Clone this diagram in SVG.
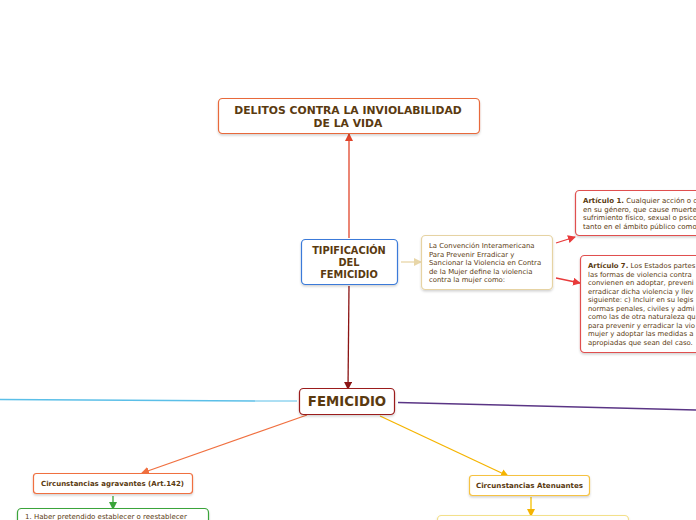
<svg xmlns="http://www.w3.org/2000/svg" width="696" height="520" viewBox="0 0 696 520">
<style>
.box{fill:#fff;stroke-width:1.2}
.t{font-family:"DejaVu Sans",Verdana,sans-serif;fill:#5a3a10}
.b{font-weight:bold}
.c{fill:none;stroke-width:1.3}
</style>
<defs>
<filter id="sh" x="-10%" y="-10%" width="120%" height="130%">
<feDropShadow dx="0" dy="1.5" stdDeviation="1.2" flood-color="#000" flood-opacity="0.18"/>
</filter>
<marker id="aR" markerWidth="8" markerHeight="8" refX="7" refY="4" orient="auto" markerUnits="userSpaceOnUse"><path d="M0,0 L8,4 L0,8 Z" fill="#e0442a"/></marker>
<marker id="aD" markerWidth="8" markerHeight="8" refX="7" refY="4" orient="auto" markerUnits="userSpaceOnUse"><path d="M0,0 L8,4 L0,8 Z" fill="#8b1414"/></marker>
<marker id="aB" markerWidth="8" markerHeight="8" refX="7" refY="4" orient="auto" markerUnits="userSpaceOnUse"><path d="M0,0 L8,4 L0,8 Z" fill="#e8d6a8"/></marker>
<marker id="aP" markerWidth="8" markerHeight="8" refX="7" refY="4" orient="auto" markerUnits="userSpaceOnUse"><path d="M0,0 L8,4 L0,8 Z" fill="#e83a3a"/></marker>
<marker id="aO" markerWidth="8" markerHeight="8" refX="7" refY="4" orient="auto" markerUnits="userSpaceOnUse"><path d="M0,0 L8,4 L0,8 Z" fill="#f07040"/></marker>
<marker id="aY" markerWidth="8" markerHeight="8" refX="7" refY="4" orient="auto" markerUnits="userSpaceOnUse"><path d="M0,0 L8,4 L0,8 Z" fill="#f5b400"/></marker>
<marker id="aG" markerWidth="8" markerHeight="8" refX="7" refY="4" orient="auto" markerUnits="userSpaceOnUse"><path d="M0,0 L8,4 L0,8 Z" fill="#3aa43a"/></marker>
</defs>

<g id="connectors">
<path class="c" d="M349,238 L349,134" stroke="#e0442a" marker-end="url(#aR)"/>
<path class="c" d="M349,286 L348,389" stroke="#8b1414" marker-end="url(#aD)"/>
<path class="c" d="M401,262 L421,262" stroke="#e8d6a8" marker-end="url(#aB)"/>
<path class="c" d="M556,243 L575,237" stroke="#e83a3a" marker-end="url(#aP)"/>
<path class="c" d="M556,278 L580,283" stroke="#e83a3a" marker-end="url(#aP)"/>
<path d="M0,399.5 L255,401" fill="none" stroke="#5bbfe8" stroke-width="1.6"/>
<path d="M255,401 L297,401" fill="none" stroke="#5bbfe8" stroke-width="1"/>
<path d="M398,402.5 C500,405 600,408 696,410" fill="none" stroke="#5a3585" stroke-width="1.4"/>
<path class="c" d="M307,415 L142,473" stroke="#f07040" marker-end="url(#aO)"/>
<path class="c" d="M380,416 L508,476" stroke="#f5b400" marker-end="url(#aY)"/>
<path class="c" d="M113,496 L113,509" stroke="#3aa43a" marker-end="url(#aG)"/>
<path class="c" d="M531,497 L531,516" stroke="#f5c000" marker-end="url(#aY)"/>
</g>

<g id="delitos">
<rect class="box" x="218.5" y="98.5" width="261" height="35" rx="4" stroke="#e8693a" filter="url(#sh)"/>
<text class="t b" font-size="10.8" text-anchor="middle"><tspan x="348" y="114">DELITOS CONTRA LA INVIOLABILIDAD</tspan><tspan x="348" y="127">DE LA VIDA</tspan></text>
</g>

<g id="tipificacion">
<rect class="box" x="301.5" y="239.5" width="96" height="45" rx="4" stroke="#3a7ad9" filter="url(#sh)"/>
<text class="t b" font-size="9.8" text-anchor="middle"><tspan x="349" y="254">TIPIFICACIÓN</tspan><tspan x="349" y="266">DEL</tspan><tspan x="349" y="278">FEMICIDIO</tspan></text>
</g>

<g id="convencion">
<rect class="box" x="421.5" y="235.5" width="131" height="54" rx="4" stroke="#e6d3a3" filter="url(#sh)"/>
<text class="t" font-size="6.9"><tspan x="429" y="248">La Convención Interamericana</tspan><tspan x="429" y="256.5">Para Prevenir Erradicar y</tspan><tspan x="429" y="265">Sancionar la Violencia en Contra</tspan><tspan x="429" y="273.5">de la Mujer define la violencia</tspan><tspan x="429" y="282">contra la mujer como:</tspan></text>
</g>

<g id="articulo1">
<rect class="box" x="575.5" y="190.5" width="135" height="45" rx="4" stroke="#e05050" filter="url(#sh)"/>
<text class="t" font-size="7"><tspan x="583" y="203"><tspan font-weight="bold">Artículo 1.</tspan> Cualquier acción o c</tspan><tspan x="583" y="211.5">en su género, que cause muerte</tspan><tspan x="583" y="220">sufrimiento físico, sexual o psico</tspan><tspan x="583" y="228.5">tanto en el ámbito público como</tspan></text>
</g>

<g id="articulo7">
<rect class="box" x="580.5" y="255.5" width="130" height="97" rx="4" stroke="#e05050" filter="url(#sh)"/>
<text class="t" font-size="6.9"><tspan x="588" y="268"><tspan font-weight="bold">Artículo 7.</tspan> Los Estados partes</tspan><tspan x="588" y="276.5">las formas de violencia contra</tspan><tspan x="588" y="285">convienen en adoptar, preveni</tspan><tspan x="588" y="293.5">erradicar dicha violencia y llev</tspan><tspan x="588" y="302">siguiente: c) Incluir en su legis</tspan><tspan x="588" y="310.5">normas penales, civiles y admi</tspan><tspan x="588" y="319">como las de otra naturaleza qu</tspan><tspan x="588" y="327.5">para prevenir y erradicar la vio</tspan><tspan x="588" y="336">mujer y adoptar las medidas a</tspan><tspan x="588" y="344.5">apropiadas que sean del caso.</tspan></text>
</g>

<g id="femicidio">
<rect class="box" x="299.5" y="388.5" width="95" height="26" rx="4" stroke="#9b1c1c" filter="url(#sh)"/>
<text class="t b" font-size="13.3" text-anchor="middle" x="347" y="406">FEMICIDIO</text>
</g>

<g id="agravantes">
<rect class="box" x="33.5" y="473.5" width="159" height="20" rx="3" stroke="#f07040" filter="url(#sh)"/>
<text class="t b" font-size="7" text-anchor="middle" x="112.5" y="486">Circunstancias agravantes (Art.142)</text>
</g>

<g id="agravantes-lista">
<rect class="box" x="17.5" y="508.5" width="191" height="30" rx="4" stroke="#3aa43a" filter="url(#sh)"/>
<text class="t" font-size="7" x="25" y="519">1. Haber pretendido establecer o reestablecer</text>
</g>

<g id="atenuantes">
<rect class="box" x="469.5" y="475.5" width="120" height="20" rx="3" stroke="#f5c242" filter="url(#sh)"/>
<text class="t b" font-size="7.1" text-anchor="middle" x="529.5" y="488">Circunstancias Atenuantes</text>
</g>

<g id="atenuantes-lista">
<rect class="box" x="437.5" y="515.5" width="191" height="30" rx="4" stroke="#f3e08a" filter="url(#sh)"/>
</g>
</svg>
